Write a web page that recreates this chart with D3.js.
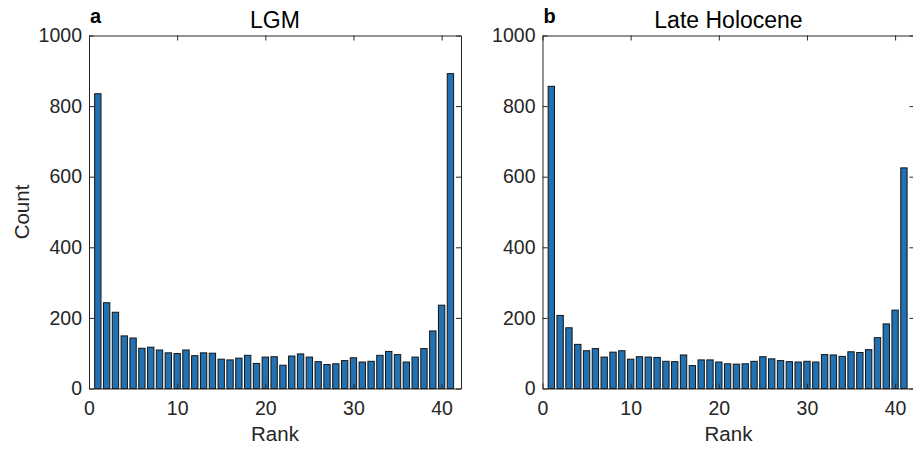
<!DOCTYPE html>
<html>
<head>
<meta charset="utf-8">
<script src="https://cdn.jsdelivr.net/npm/d3@7/dist/d3.min.js"></script>
<style>
  body { margin: 0; background: #fff; }
  svg { display: block; font-family: "Liberation Sans", Arial, Helvetica, sans-serif; }
</style>
</head>
<body>
<svg width="913" height="450"></svg>
<script>
(function () {

	// rank histogram counts
	var ranks = [1, 2, 3, 4, 5, 6, 7, 8, 9, 10, 11, 12, 13, 14, 15, 16, 17, 18, 19, 20,
		21, 22, 23, 24, 25, 26, 27, 28, 29, 30, 31, 32, 33, 34, 35, 36, 37, 38, 39, 40, 41];

	var lgmCounts = [835, 243, 216, 149, 143, 114, 117, 109, 101, 99,
		109, 93, 101, 100, 83, 81, 86, 94, 71, 89,
		90, 66, 92, 98, 89, 76, 68, 70, 79, 87,
		75, 77, 94, 105, 96, 75, 89, 113, 163, 236, 892];

	var holoCounts = [856, 207, 172, 125, 107, 113, 89, 103, 107, 83,
		90, 89, 88, 77, 76, 95, 65, 81, 81, 75,
		70, 69, 70, 77, 90, 84, 79, 76, 75, 77,
		75, 96, 95, 91, 104, 102, 110, 144, 183, 222, 625];

	var xTicks = [0, 10, 20, 30, 40];
	var yTicks = [0, 200, 400, 600, 800, 1000];

	var panels = [
		{ letter: "a", title: "LGM", counts: lgmCounts, left: 89, right: 461, ylabel: true },
		{ letter: "b", title: "Late Holocene", counts: holoCounts, left: 542.5, right: 914.5, ylabel: false }
	];

	var top = 35.5, bottom = 388.5;
	var axisColor = "#262626";
	var barWidth = 0.72;

	var svg = d3.select("svg");

	var yScale = d3.scaleLinear()
		.domain([0, 1000])
		.range([bottom, top]);

	panels.forEach(function (p) {
		var xScale = d3.scaleLinear()
			.domain([0, 42.2])
			.range([p.left, p.right]);

		var g = svg.append("g");

		g.selectAll("rect")
			.data(ranks)
			.enter()
			.append("rect")
			.attr("x", function (r) { return xScale(r - barWidth / 2); })
			.attr("width", function () { return xScale(barWidth) - xScale(0); })
			.attr("y", function (r, i) { return yScale(p.counts[i]); })
			.attr("height", function (r, i) { return yScale(0) - yScale(p.counts[i]); })
			.attr("fill", "#2171b3")
			.attr("stroke", "#141414")
			.attr("stroke-width", 1);

		var xb = g.append("g")
			.attr("transform", "translate(0," + bottom + ")")
			.call(d3.axisBottom(xScale).tickValues(xTicks).tickFormat(d3.format("d"))
				.tickSizeInner(-5).tickSizeOuter(0).tickPadding(13));
		var xt = g.append("g")
			.attr("transform", "translate(0," + top + ")")
			.call(d3.axisTop(xScale).tickValues(xTicks).tickSizeInner(-5).tickSizeOuter(0).tickFormat(""));
		var yl = g.append("g")
			.attr("transform", "translate(" + p.left + ",0)")
			.call(d3.axisLeft(yScale).tickValues(yTicks).tickFormat(d3.format("d"))
				.tickSizeInner(-5).tickSizeOuter(0).tickPadding(7));
		var yr = g.append("g")
			.attr("transform", "translate(" + p.right + ",0)")
			.call(d3.axisRight(yScale).tickValues(yTicks).tickSizeInner(-5).tickSizeOuter(0).tickFormat(""));

		[xb, xt, yl, yr].forEach(function (a) {
			a.selectAll("path, line").attr("stroke", axisColor).attr("stroke-width", 1);
			a.selectAll("text")
				.attr("fill", axisColor)
				.style("font-size", "19.5px")
				.style("font-family", "\"Liberation Sans\", Arial, sans-serif");
		});

		g.append("text")
			.attr("x", (p.left + p.right) / 2)
			.attr("y", 440.5)
			.attr("text-anchor", "middle")
			.attr("fill", axisColor)
			.style("font-size", "20.5px")
			.text("Rank");

		g.append("text")
			.attr("x", (p.left + p.right) / 2)
			.attr("y", 27.5)
			.attr("text-anchor", "middle")
			.attr("fill", "#000")
			.style("font-size", "23px")
			.text(p.title);

		g.append("text")
			.attr("x", p.left + 1)
			.attr("y", 22.5)
			.attr("fill", "#000")
			.style("font-size", "20px")
			.style("font-weight", "bold")
			.text(p.letter);

		if (p.ylabel) {
			g.append("text")
				.attr("transform", "translate(28.5," + ((top + bottom) / 2) + ") rotate(-90)")
				.attr("text-anchor", "middle")
				.attr("fill", axisColor)
				.style("font-size", "20.5px")
				.text("Count");
		}
	});

})();
</script>
</body>
</html>
